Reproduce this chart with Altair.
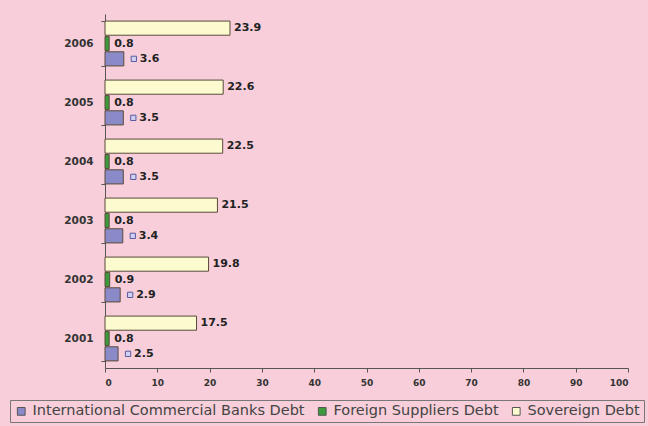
import altair as alt
import pandas as pd

years = ["2001", "2002", "2003", "2004", "2005", "2006"]
intl = [2.5, 2.9, 3.4, 3.5, 3.5, 3.6]
foreign = [0.8, 0.9, 0.8, 0.8, 0.8, 0.8]
sovereign = [17.5, 19.8, 21.5, 22.5, 22.6, 23.9]
series = ["International Commercial Banks Debt", "Foreign Suppliers Debt", "Sovereign Debt"]
colors = ["#8a8ac8", "#3c9a3c", "#fbfbcf"]
x_ticks = [0, 10, 20, 30, 40, 50, 60, 70, 80, 90, 100]

rows = []
for s, vals in zip(series, [intl, foreign, sovereign]):
    for y, v in zip(years, vals):
        rows.append({"Year": y, "Series": s, "Value": v, "Label": f"{v:.1f}"})
df = pd.DataFrame(rows)

BG = "#f7ced9"
FONT = "DejaVu Sans"
y_order = years[::-1]
offset_order = ["Sovereign Debt", "Foreign Suppliers Debt", "International Commercial Banks Debt"]

y_enc = alt.Y("Year:N", sort=y_order, title=None,
              scale=alt.Scale(paddingInner=0.24, paddingOuter=0.12),
              axis=alt.Axis(tickBand="extent", labelFont=FONT, labelFontWeight="bold",
                            labelFontSize=10.5, labelColor="#333", labelPadding=8, tickSize=4,
                            tickColor="#555", domainColor="#555", grid=False))
yoff_enc = alt.YOffset("Series:N", sort=offset_order, scale=alt.Scale(paddingInner=0.08))
x_scale = alt.Scale(domain=[0, 100], nice=False)

bars = alt.Chart(df).mark_bar(stroke="#5a4a3a", strokeWidth=1).encode(
    x=alt.X("Value:Q", scale=x_scale, title=None,
            axis=alt.Axis(values=x_ticks, labelFont=FONT, labelFontWeight="bold",
                          labelFontSize=9, labelColor="#333", tickSize=4, tickColor="#555",
                          domainColor="#555", grid=False, labelPadding=6)),
    y=y_enc,
    yOffset=yoff_enc,
    color=alt.Color("Series:N", sort=series,
                    scale=alt.Scale(domain=series, range=colors),
                    legend=alt.Legend(title=None, orient="none", direction="horizontal",
                                      legendX=-95, legendY=386, symbolType="square",
                                      symbolSize=60, symbolStrokeColor="#555", symbolStrokeWidth=1,
                                      labelFont=FONT, labelFontSize=14.5,
                                      labelColor="#444", columnPadding=10, padding=4,
                                      strokeColor="#777", labelLimit=400)),
)

lbl_style = dict(align="left", font=FONT, fontWeight="bold", fontSize=11, color="#222")

sov_lbl = alt.Chart(df[df.Series == "Sovereign Debt"]).mark_text(dx=4, **lbl_style).encode(
    x=alt.X("Value:Q", scale=x_scale), y=y_enc, yOffset=yoff_enc, text="Label:N")

for_lbl = alt.Chart(df[df.Series == "Foreign Suppliers Debt"]).mark_text(dx=5, **lbl_style).encode(
    x=alt.X("Value:Q", scale=x_scale), y=y_enc, yOffset=yoff_enc, text="Label:N")

int_df = df[df.Series == "International Commercial Banks Debt"]
int_sq = alt.Chart(int_df).mark_square(
    xOffset=10, size=28, fill="#d0d0f0", stroke="#5a5aa0", strokeWidth=1, opacity=1
).encode(x=alt.X("Value:Q", scale=x_scale), y=y_enc, yOffset=yoff_enc)
int_lbl = alt.Chart(int_df).mark_text(dx=16, **lbl_style).encode(
    x=alt.X("Value:Q", scale=x_scale), y=y_enc, yOffset=yoff_enc, text="Label:N")

chart = alt.layer(bars, sov_lbl, for_lbl, int_sq, int_lbl).properties(
    width=523, height=354,
    autosize=alt.AutoSizeParams(type="none"),
    padding={"left": 105, "top": 14, "right": 20, "bottom": 58},
    background=BG,
).configure_view(stroke=None, fill=BG)

chart.save("out.html", embed_options={"renderer": "svg", "actions": False})
